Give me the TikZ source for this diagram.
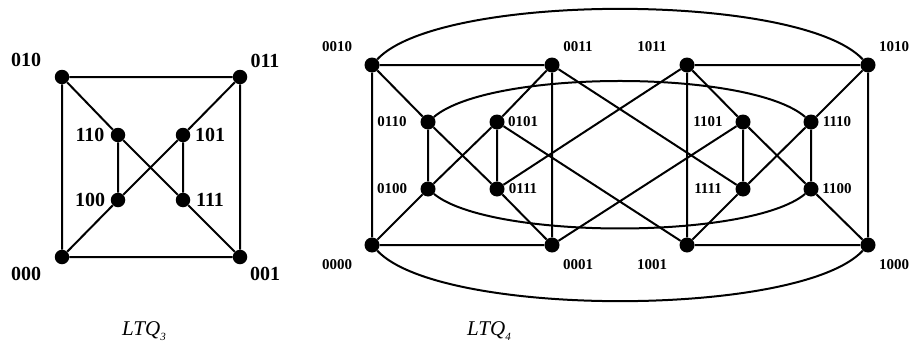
\documentclass[tikz,border=0pt]{standalone}
\usepackage{fontspec}
\setmainfont{Liberation Serif}
\begin{document}
\begin{tikzpicture}[x=1pt,y=-1pt,
  vthree/.style={circle,fill=black,inner sep=0pt,minimum size=14.5pt},
  vfour/.style={circle,fill=black,inner sep=0pt,minimum size=15pt},
  labthree/.style={inner sep=0pt,font=\fontsize{20}{20}\selectfont\bfseries},
  labfour/.style={inner sep=0pt,font=\fontsize{15}{15}\selectfont\bfseries},
  captext/.style={inner sep=0pt,font=\fontsize{21}{21}\selectfont\itshape},
  linkline/.style={line width=2pt}]
\useasboundingbox (0,0) rectangle (910,348);
% ---- LTQ3 ----
\node[vthree] (a010) at (62,77) {};
\node[vthree] (a011) at (240,77) {};
\node[vthree] (a000) at (62,257) {};
\node[vthree] (a001) at (240,257) {};
\node[vthree] (a110) at (118,135) {};
\node[vthree] (a101) at (183,135) {};
\node[vthree] (a100) at (118,200) {};
\node[vthree] (a111) at (183,200) {};
\draw[linkline] (a010)--(a011) (a010)--(a000) (a011)--(a001) (a000)--(a001)
  (a010)--(a110) (a110)--(a111) (a111)--(a001)
  (a011)--(a101) (a101)--(a100) (a100)--(a000)
  (a110)--(a100) (a101)--(a111);
\node[labthree] (t010) at (26,60) {010};
\node[labthree] (t011) at (265,61) {011};
\node[labthree] (t000) at (26,274) {000};
\node[labthree] (t001) at (265,274) {001};
\node[labthree] (t110) at (90,135) {110};
\node[labthree] (t101) at (210,135) {101};
\node[labthree] (t100) at (90,200) {100};
\node[labthree] (t111) at (210,200) {111};
\node[captext] (c3) at (144,331) {LTQ\raisebox{-0.5ex}{\fontsize{11}{11}\selectfont 3}};
% ---- LTQ4 ----
\node[vfour] (b0010) at (372,65) {};
\node[vfour] (b0011) at (552,65) {};
\node[vfour] (b0000) at (372,245) {};
\node[vfour] (b0001) at (552,245) {};
\node[vfour] (b0110) at (428,122) {};
\node[vfour] (b0101) at (497,122) {};
\node[vfour] (b0100) at (428,189) {};
\node[vfour] (b0111) at (497,189) {};
\node[vfour] (b1011) at (687,65) {};
\node[vfour] (b1010) at (868,65) {};
\node[vfour] (b1001) at (687,245) {};
\node[vfour] (b1000) at (868,245) {};
\node[vfour] (b1101) at (743,122) {};
\node[vfour] (b1110) at (811,122) {};
\node[vfour] (b1111) at (743,189) {};
\node[vfour] (b1100) at (811,189) {};
\draw[linkline] (b0010)--(b0011) (b0010)--(b0000) (b0011)--(b0001) (b0000)--(b0001)
  (b0010)--(b0110) (b0110)--(b0100) (b0110)--(b0111) (b0101)--(b0111)
  (b0101)--(b0100) (b0011)--(b0101) (b0100)--(b0000) (b0111)--(b0001);
\draw[linkline] (b1011)--(b1010) (b1011)--(b1001) (b1010)--(b1000) (b1001)--(b1000)
  (b1011)--(b1101) (b1101)--(b1111) (b1101)--(b1100) (b1110)--(b1111)
  (b1110)--(b1100) (b1010)--(b1110) (b1111)--(b1001) (b1100)--(b1000);
\draw[linkline] (b0011)--(b1111) (b1011)--(b0111) (b0101)--(b1001) (b0001)--(b1101);
\draw[linkline] (b0010) .. controls (440,-8) and (800,-8) .. (b1010);
\draw[linkline] (b0000) .. controls (440,318) and (800,318) .. (b1000);
\draw[linkline] (b0110) .. controls (490,69) and (750,69) .. (b1110);
\draw[linkline] (b0100) .. controls (490,240) and (750,240) .. (b1100);
\node[labfour] (u0010) at (337,47) {0010};
\node[labfour] (u0011) at (578,47) {0011};
\node[labfour] (u0000) at (337,265) {0000};
\node[labfour] (u0001) at (578,265) {0001};
\node[labfour] (u0110) at (392,122) {0110};
\node[labfour] (u0101) at (523,122) {0101};
\node[labfour] (u0100) at (392,189) {0100};
\node[labfour] (u0111) at (523,189) {0111};
\node[labfour] (u1011) at (652,47) {1011};
\node[labfour] (u1010) at (894,47) {1010};
\node[labfour] (u1001) at (652,265) {1001};
\node[labfour] (u1000) at (894,265) {1000};
\node[labfour] (u1101) at (708,122) {1101};
\node[labfour] (u1110) at (837,122) {1110};
\node[labfour] (u1111) at (708,189) {1111};
\node[labfour] (u1100) at (837,189) {1100};
\node[captext] (c4) at (489,331) {LTQ\raisebox{-0.5ex}{\fontsize{11}{11}\selectfont 4}};
\end{tikzpicture}
\end{document}
